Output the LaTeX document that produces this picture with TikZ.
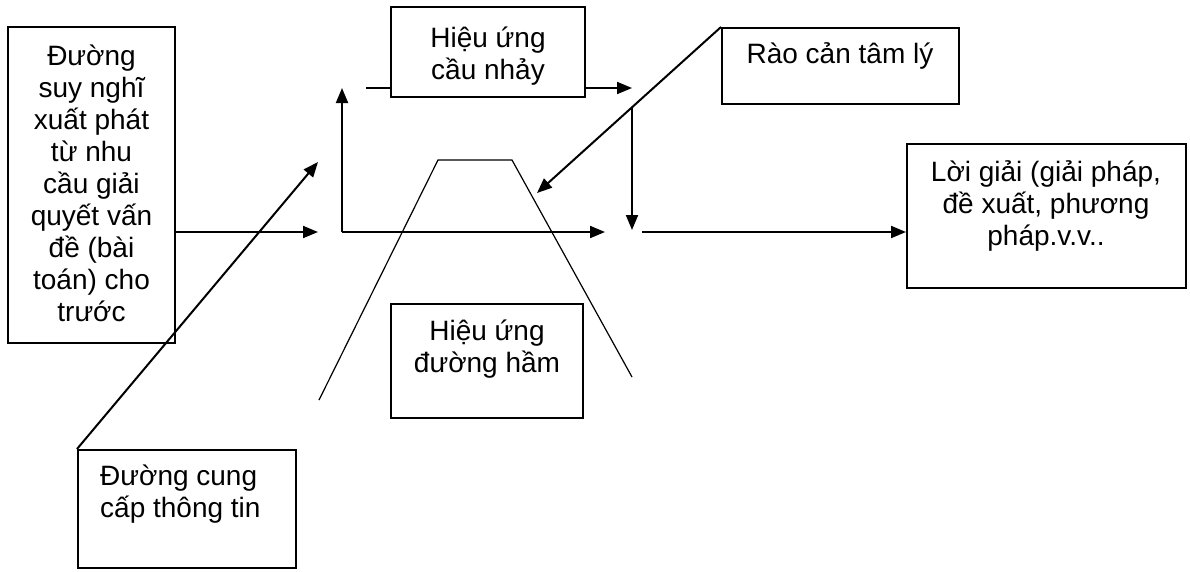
\documentclass[tikz,border=0pt]{standalone}
\usepackage{fontspec}
\setmainfont{Liberation Sans}
\usetikzlibrary{arrows.meta}
\begin{document}
\begin{tikzpicture}[x=1pt,y=-1pt,
  box/.style={draw,line width=2pt,inner sep=0pt},
  txt/.style={inner sep=0pt,align=center,font=\fontsize{28}{32}\selectfont},
  arr/.style={line width=2pt,-{Triangle[length=15pt,width=12pt]}},
  plain/.style={line width=2pt},
  thin/.style={line width=1.2pt}]
\useasboundingbox (0,0) rectangle (1190,571);
% boxes
\node[box,minimum width=167pt,minimum height=316pt] (nL) at (91.5,185) {};
\node[box,minimum width=194pt,minimum height=90pt] (nH1) at (488,52) {};
\node[box,minimum width=237pt,minimum height=76pt] (nR) at (840.5,66) {};
\node[box,minimum width=279pt,minimum height=144pt] (nS) at (1046.5,216) {};
\node[box,minimum width=192pt,minimum height=114pt] (nH2) at (487,361) {};
\node[box,minimum width=218pt,minimum height=118pt] (nC) at (187,509) {};
% texts
\node[txt,anchor=north] (tL) at (91.5,36) {\rule{0pt}{29pt}Đường\\suy nghĩ\\xuất phát\\từ nhu\\cầu giải\\quyết vấn\\đề (bài\\toán) cho\\trước};
\node[txt,anchor=north] (tH1) at (488,18) {\rule{0pt}{29pt}Hiệu ứng\\cầu nhảy};
\node[txt,anchor=north] (tR) at (840,34) {\rule{0pt}{29pt}Rào cản tâm lý};
\node[txt,anchor=north] (tS) at (1046,152) {\rule{0pt}{29pt}Lời giải (giải pháp,\\đề xuất, phương\\pháp.v.v..};
\node[txt,anchor=north] (tH2) at (487,311) {\rule{0pt}{29pt}Hiệu ứng\\đường hầm};
\node[txt,anchor=north west,align=left] (tC) at (100,456) {\rule{0pt}{29pt}Đường cung\\cấp thông tin};
% coordinates
\coordinate (t1) at (318,232);
\coordinate (t2) at (318,162);
\coordinate (j) at (342,232);
\coordinate (t3) at (605,232);
\coordinate (t4) at (342,88);
\coordinate (s5) at (366,88);
\coordinate (t5) at (632,88);
\coordinate (t6) at (537,193);
\coordinate (j2) at (632,108);
\coordinate (t7) at (632,230);
\coordinate (s8) at (642,232);
\coordinate (p1) at (319,400);
\coordinate (p2) at (438,160);
\coordinate (p3) at (512,160);
\coordinate (p4) at (632,377);
% connectors
\draw[arr] (nL.east |- t1) -- (t1);
\draw[arr] (nC.north west) -- (t2);
\draw[arr] (j) -- (t3);
\draw[arr] (j) -- (t4);
\draw[plain] (s5) -- (nH1.west |- s5);
\draw[arr] (nH1.east |- s5) -- (t5);
\draw[arr] (nR.north west) -- (t6);
\draw[arr] (j2) -- (t7);
\draw[arr] (s8) -- (nS.west |- s8);
\draw[thin] (p1) -- (p2) -- (p3) -- (p4);
\end{tikzpicture}
\end{document}
